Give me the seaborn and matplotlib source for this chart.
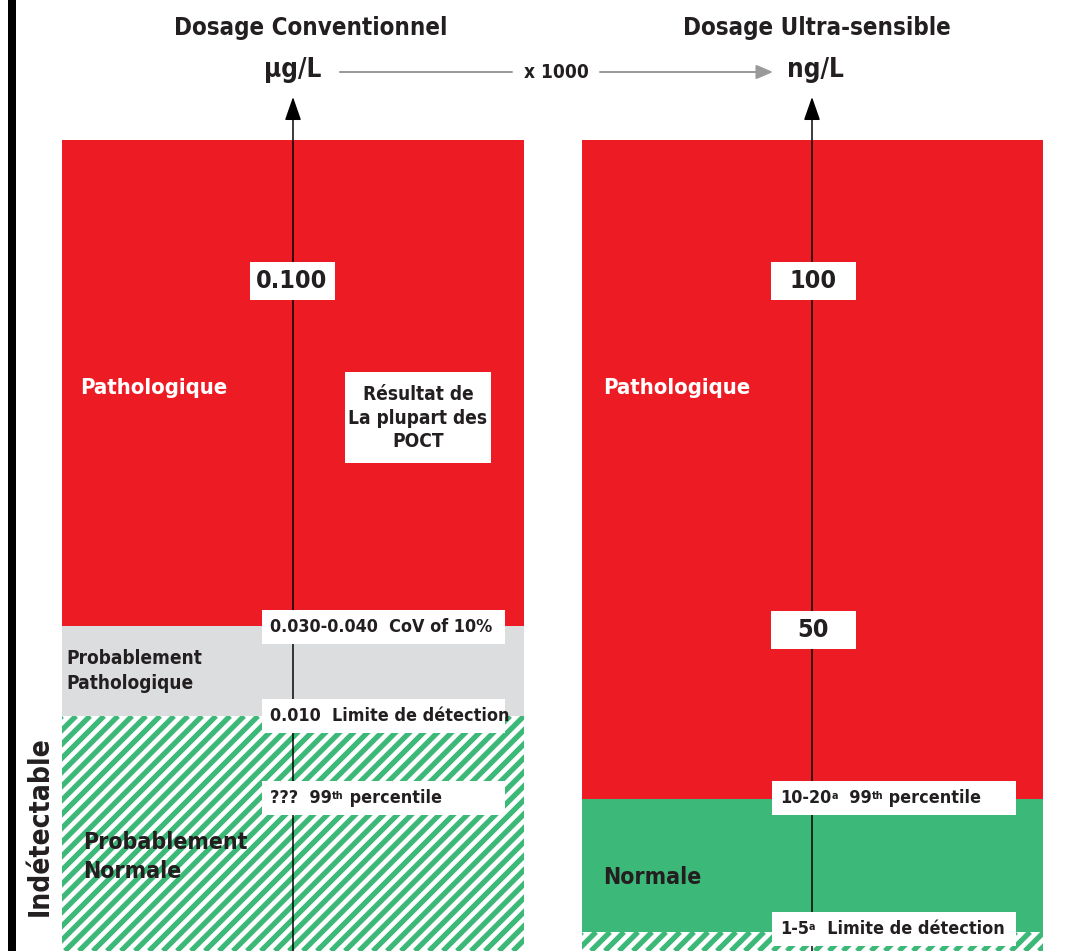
import seaborn as sns
import matplotlib.pyplot as plt
from matplotlib.patches import FancyArrowPatch

# scale bands, in image rows (top, bottom) for each panel
left_band_names = ["Pathologique", "Probablement\nPathologique", "Probablement\nNormale"]
left_band_top = [140, 626, 716]
left_band_bottom = [626, 716, 951]
left_band_kind = ["red", "gray", "hatch"]

right_band_names = ["Pathologique", "Normale", ""]
right_band_top = [140, 799, 932]
right_band_bottom = [799, 932, 951]
right_band_kind = ["red", "green", "hatch"]

# markers on each axis: (label parts, row)
left_marks = [
    [("0.030-0.040  CoV of 10%", False)],
    [("0.010  Limite de détection", False)],
    [("???  99", False), ("th", True), (" percentile", False)],
]
left_mark_rows = [627, 716, 798]
right_marks = [
    [("10-20", False), ("a", True), ("  99", False), ("th", True), (" percentile", False)],
    [("1-5", False), ("a", True), ("  Limite de détection", False)],
]
right_mark_rows = [798, 929]

left_values = ["0.100"]
left_value_rows = [281]
right_values = ["100", "50"]
right_value_rows = [281, 630]

titles = ["Dosage Conventionnel", "Dosage Ultra-sensible"]
units = ["µg/L", "ng/L"]
factor = "x 1000"

RED = "#ed1c24"
GRAY = "#dcdddf"
GREEN = "#3cb878"
DARK = "#231f20"

sns.set_theme(style="white")
plt.rcParams["font.family"] = ["DejaVu Sans"]
plt.rcParams["font.stretch"] = "condensed"

fig = plt.figure(figsize=(1068 / 72, 951 / 72), dpi=72)
ax = fig.add_axes([0, 0, 1, 1])
ax.set_xlim(0, 1068)
ax.set_ylim(951, 0)
ax.axis("off")

# black rule on the left edge
ax.bar(12, 951, bottom=0, width=8, color="black", linewidth=0)


def draw_bands(x0, x1, tops, bottoms, kinds):
    for t, b, k in zip(tops, bottoms, kinds):
        if k == "hatch":
            bars = ax.bar((x0 + x1) / 2, b - t, bottom=t, width=x1 - x0, color="white", linewidth=0)
            clip = bars.patches[0]
            h = b - t
            for c in range(x0 - h - 14, x1 + 14, 14):
                ln, = ax.plot([c, c + h], [b, t], color=GREEN, linewidth=5.3,
                              solid_capstyle="butt", zorder=1.5)
                ln.set_clip_path(clip)
        else:
            c = {"red": RED, "gray": GRAY, "green": GREEN}[k]
            ax.bar((x0 + x1) / 2, b - t, bottom=t, width=x1 - x0, color=c, linewidth=0)


draw_bands(62, 524, left_band_top, left_band_bottom, left_band_kind)
draw_bands(582, 1043, right_band_top, right_band_bottom, right_band_kind)

# vertical axes with arrow heads
for xa in [293, 812]:
    ax.add_patch(FancyArrowPatch((xa, 951), (xa, 97), arrowstyle="-|>,head_length=20,head_width=7",
                                 mutation_scale=1, color="black", linewidth=1.5, shrinkA=0, shrinkB=0,
                                 zorder=3))

# titles and units
ax.text(311, 28, titles[0], ha="center", va="center", fontsize=24, weight="bold", color=DARK)
ax.text(817, 28, titles[1], ha="center", va="center", fontsize=24, weight="bold", color=DARK)
ax.text(293, 70, units[0], ha="center", va="center", fontsize=26, weight="bold", color=DARK)
ax.text(815, 70, units[1], ha="center", va="center", fontsize=26, weight="bold", color=DARK)
ax.text(556, 72, factor, ha="center", va="center", fontsize=19, weight="bold", color=DARK)
ax.plot([340, 512], [72, 72], color="#9a9a9a", linewidth=2)
ax.add_patch(FancyArrowPatch((600, 72), (773, 72), arrowstyle="-|>,head_length=14,head_width=6",
                             mutation_scale=1, color="#9a9a9a", linewidth=2, shrinkA=0, shrinkB=0))


def value_box(xc, row, s):
    ax.bar(xc, 38, bottom=row - 19, width=85, color="white", linewidth=0, zorder=4)
    ax.text(xc, row, s, ha="center", va="center", fontsize=25, weight="bold", color=DARK, zorder=5)


for s, r in zip(left_values, left_value_rows):
    value_box(292, r, s)
for s, r in zip(right_values, right_value_rows):
    value_box(813, r, s)

# POCT note
ax.bar(418, 91, bottom=372, width=146, color="white", linewidth=0, zorder=4)
ax.text(418, 418, "Résultat de\nLa plupart des\nPOCT", ha="center", va="center",
        fontsize=19, weight="bold", color=DARK, linespacing=1.3, zorder=5)


def rich(x, y, parts, size):
    base = None
    prev = None
    for s, sup in parts:
        if base is None:
            t = ax.text(x, y, s, ha="left", va="center", fontsize=size, weight="bold", color=DARK,
                        zorder=5)
            base = t
        elif sup:
            t = ax.annotate(s, xy=(1, 0.9), xycoords=(prev, base), ha="left", va="top",
                            fontsize=size * 0.6, weight="bold", color=DARK, zorder=5)
        else:
            t = ax.annotate(s, xy=(1, 0), xycoords=(prev, base), ha="left", va="bottom",
                            fontsize=size, weight="bold", color=DARK, zorder=5)
        prev = t


def mark_box(x0, x1, row, parts):
    ax.bar((x0 + x1) / 2, 34, bottom=row - 17, width=x1 - x0, color="white", linewidth=0, zorder=4)
    rich(x0 + 8, row, parts, 17.9)


for parts, r in zip(left_marks, left_mark_rows):
    mark_box(262, 505, r, parts)
for parts, r in zip(right_marks, right_mark_rows):
    mark_box(772, 1016, r, parts)

# band labels
ax.text(80, 388, left_band_names[0], ha="left", va="center", fontsize=22, weight="bold", color="white")
ax.text(66, 671, left_band_names[1], ha="left", va="center", fontsize=19, weight="bold", color=DARK,
        linespacing=1.4)
ax.text(83, 857, left_band_names[2], ha="left", va="center", fontsize=23, weight="bold", color=DARK,
        linespacing=1.35, zorder=5)
ax.text(603, 388, right_band_names[0], ha="left", va="center", fontsize=22, weight="bold", color="white")
ax.text(603, 878, right_band_names[1], ha="left", va="center", fontsize=23, weight="bold", color=DARK)
ax.text(40, 826, "Indétectable", ha="center", va="center", rotation=90, fontsize=28, weight="bold",
        color=DARK)

fig.savefig("out.png", dpi=72)
